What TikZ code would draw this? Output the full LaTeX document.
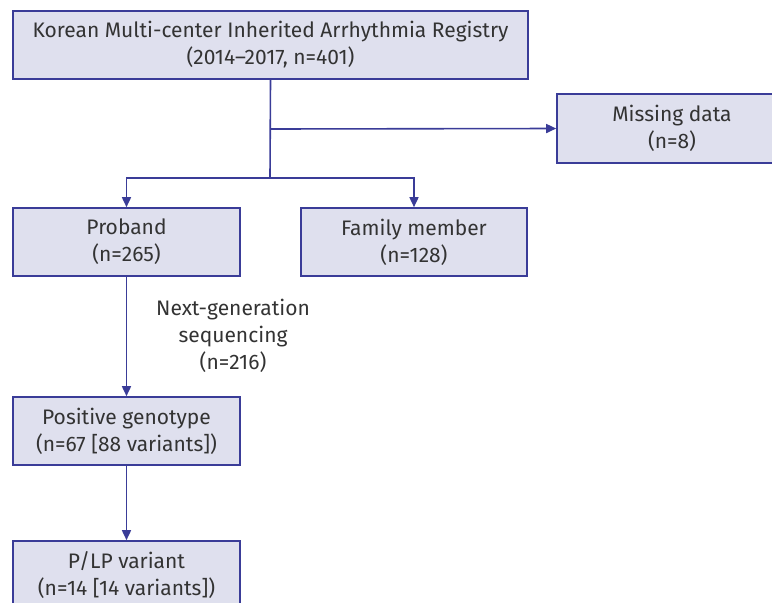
\documentclass[tikz,border=0pt]{standalone}
\usepackage{fontspec}
\setmainfont{Fira Sans}
\usepackage{xcolor}
\usetikzlibrary{arrows.meta,positioning}
\definecolor{boxfill}{HTML}{DFE0EE}
\definecolor{navy}{HTML}{3A3C98}
\definecolor{txt}{HTML}{333333}

\begin{document}
\begin{tikzpicture}[x=1pt, y=-1pt,
    every node/.style={font=\fontsize{21}{27}\selectfont, text=txt, align=center},
    box/.style={draw=navy, fill=boxfill, line width=1.6pt, inner sep=0pt,
                minimum height=68pt},
    link/.style={draw=navy, line width=1.6pt},
    arr/.style={link, -{Triangle[length=10pt,width=9pt]}}]

\useasboundingbox (0,0) rectangle (772,603);

% boxes
\node[box, minimum width=515pt] (registry) at (270.5,45)
  {Korean Multi-center Inherited Arrhythmia Registry\\(2014--2017, n=401)};
\node[box, minimum width=230pt, minimum height=69pt] (missing) at (672,128.5)
  {Missing data\\(n=8)};
\node[box, minimum width=227pt] (proband) at (126.5,242) {Proband\\(n=265)};
\node[box, minimum width=226pt] (family) at (414,242) {Family member\\(n=128)};
\node[box, minimum width=227pt] (positive) at (126.5,431)
  {Positive genotype\\(n=67 [88 variants])};
\node[box, minimum width=227pt] (plp) at (126.5,575)
  {P/LP variant\\(n=14 [14 variants])};

% label
\node (ngs) at (233,336) {Next-generation\\sequencing\\(n=216)};

% connectors
\coordinate (branch) at (270,129);
\coordinate (split) at (270,178);
\draw[link] (registry.south) -- (split);
\draw[arr] (branch) -- (missing.west);
\draw[arr] (split) -| (proband.north);
\draw[arr] (split) -| (family.north);
\draw[arr] (proband.south) -- (positive.north);
\draw[arr] (positive.south) -- (plp.north);

\end{tikzpicture}
\end{document}
